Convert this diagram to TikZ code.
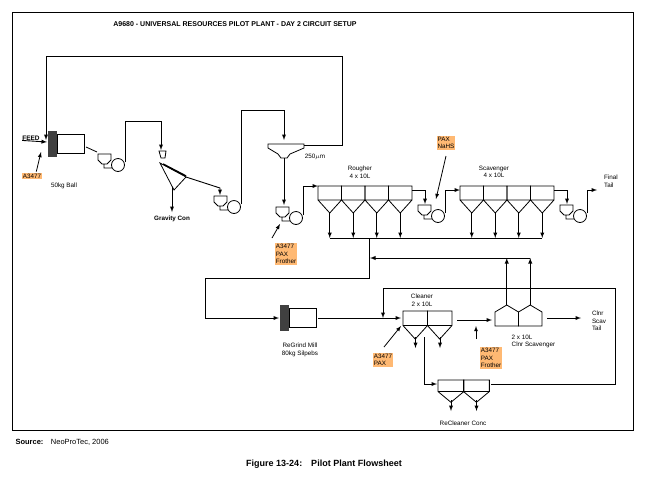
\documentclass[tikz,border=0pt]{standalone}
\usepackage{fontspec}
\setmainfont{Liberation Sans}
\usetikzlibrary{positioning}
\usetikzlibrary{arrows}
\tikzset{>=latex}
\tikzset{pipe/.style={draw, line width=0.9pt}}
\tikzset{lbl/.style={font=\fontsize{6.3}{7.5}\selectfont, align=center, inner sep=0.5pt}}
\tikzset{chem/.style={fill=orange!55, font=\fontsize{6.3}{7.5}\selectfont, align=left, inner sep=1pt, text depth=0pt}}
\tikzset{
  cell/.pic={\draw[line width=0.8pt] (0,0) rectangle (23.5,14) (0,14) -- (11.75,27) -- (23.5,14);},
  ucell/.pic={\draw[line width=0.8pt] (0,7) -- (11.75,0) -- (23.5,7) -- (23.5,21) -- (0,21) -- cycle;},
  pump/.pic={\draw[line width=0.8pt] (0,0) -- (13,0) -- (13,6) -- (9,10) -- (4,10) -- (0,6) -- cycle
      (6,10) -- (6,14) -- (14,14) (20,11) circle (6.5);},
  mill/.pic={\fill[black!75] (0,0) rectangle (9,26);
      \draw[line width=0.8pt] (9,3) rectangle (36,22);}
}
\begin{document}
\begin{tikzpicture}[x=1pt,y=-1pt]
\useasboundingbox (0,0) rectangle (647,483);
\draw[line width=1pt] (12,12) rectangle (633,430);
\node[font=\fontsize{7}{8}\selectfont\bfseries] (title) at (235,24) {A9680 - UNIVERSAL RESOURCES PILOT PLANT - DAY 2 CIRCUIT SETUP};

% grinding and gravity
\pic at (48,131) {mill};
\node[font=\fontsize{6.5}{7}\selectfont\bfseries, inner sep=0pt] (feed) at (31,138) {FEED};
\draw[->, pipe] (feed.south west) -- (47,142);
\node[chem] (c1) at (32,176) {A3477};
\draw[->, line width=0.8pt] (c1.north east) ++(-6,-1) -- (41,152);
\node[lbl] (ball) at (64,186) {50kg Ball};
\draw[line width=0.8pt] (86,147) -- (97,152);
\pic at (98,154) {pump};
\coordinate (p1) at (125,162);
\draw[->, pipe] (p1) |- (161,121) -- (161,150);
\draw[line width=0.8pt] (159,151) -- (166,151) -- (165,158) -- (161,158) -- cycle;
\draw[line width=0.8pt] (160,163) -- (186,177) -- (174,190) -- cycle;
\draw[line width=1.5pt] (163,164) -- (186,176);
\draw[->, pipe] (172,187) -- (172,212) node[below=3pt, lbl, font=\fontsize{6.3}{7.5}\selectfont\bfseries] (gcon) {Gravity Con};
\draw[->, pipe] (186,177) -- (220,188) -- (220,195);
\pic at (214,196) {pump};
\coordinate (p2) at (241,204);
\draw[->, pipe] (p2) |- (284,110) -- (284,140);

% cyclone
\draw[line width=0.8pt] (268,144) -- (304,144) -- (304,148) -- (290,154) -- (287,158) -- (281,158) -- (278,154) -- (268,148) -- cycle;
\node[lbl] (mesh) at (315,157) {250$\mu$m};
\draw[pipe] (304,145) -| (342,56) -- (46,56);
\draw[->, pipe] (46,56) -- (46,140);
\draw[->, pipe] (284,158) -- (284,205);
\pic at (276,207) {pump};
\coordinate (p3) at (303,215);
\draw[->, pipe] (p3) |- (318,186);
\node[chem] (c2) at (286,254) {A3477\\PAX\\Frother\hspace{8pt}};
\draw[->, line width=0.8pt] (272,238) -- (280,224);

% rougher and scavenger
\node[lbl] (rough) at (360,172) {Rougher\\4 x 10L};
\node[lbl] (scav) at (494,172) {Scavenger\\4 x 10L};
\foreach \i in {0,...,3} {
  \pic at (318+23.5*\i,186) {cell};
  \draw[->, pipe] (329.75+23.5*\i,213) -- (329.75+23.5*\i,238);
  \pic at (460+23.5*\i,186) {cell};
  \draw[->, pipe] (471.75+23.5*\i,213) -- (471.75+23.5*\i,238);
}
\draw[pipe] (329.75,238) -- (542.25,238);
\draw[->, pipe] (412,190) -| (425,204);
\pic at (418,205) {pump};
\coordinate (p4) at (445,213);
\draw[->, pipe] (p4) |- (460,190);
\node[chem] (c3) at (446,143) {PAX\\NaHS\hspace{4pt}};
\draw[->, line width=0.8pt] (446,156) -- (436,199);
\draw[->, pipe] (554,190) -| (567,204);
\pic at (560,205) {pump};
\coordinate (p5) at (587,213);
\draw[->, pipe] (p5) |- (597,190);
\node[lbl, align=left] (ftail) at (611,181) {Final\\Tail};

% regrind
\draw[->, pipe] (369,238) |- (205,278) |- (279,318);
\pic at (280,305) {mill};
\node[lbl] (regrind) at (300,350) {ReGrind Mill\\80kg Silpebs};
\draw[->, pipe] (318,318) -- (401,318);

% cleaner
\node[lbl] (clean) at (422,300) {Cleaner\\2 x 10L};
\foreach \i in {0,1} {
  \pic[scale=1.04] at (403+24.5*\i,311) {cell};
  \draw[->, pipe] (415.5+24.5*\i,337) -- (415.5+24.5*\i,348);
}
\draw[->, pipe] (424,337) |- (437,384);
\draw[->, pipe] (457,320) -- (492,320);
\draw[->, line width=0.8pt] (476,339) -- (476,326);
\node[chem] (c4) at (383,360) {A3477\\PAX\hspace{8pt}};
\draw[->, line width=0.8pt] (384,347) -- (401,326);

% cleaner scavenger
\foreach \i in {0,1} {
  \pic at (495+23.5*\i,305) {ucell};
  \draw[->, pipe] (506.75+23.5*\i,305) -- (506.75+23.5*\i,258);
}
\draw[->, pipe] (530.25,258) -- (370,258);
\draw[->, pipe] (547,318) -- (581,318);
\node[lbl, align=left] (cstail) at (599,321) {Clnr\\Scav\\Tail};
\node[lbl, align=left, anchor=north west] (cscav) at (511,334) {2 x 10L\\Clnr Scavenger};
\node[chem] (c5) at (491,358) {A3477\\PAX\\Frother\hspace{8pt}};

% recleaner
\foreach \i in {0,1} {
  \pic[scale=1.1,yscale=0.75] at (438+25.5*\i,380) {cell};
  \draw[->, pipe] (451+25.5*\i,400) -- (451+25.5*\i,411);
}
\node[lbl] (reconc) at (463,423) {ReCleaner Conc};
\draw[->, pipe] (491,384) -| (615,288) -| (383,318);

% caption
\node[anchor=west, font=\fontsize{7.5}{8}\selectfont] (src) at (12,442) {\textbf{Source:}\quad NeoProTec, 2006};
\node[font=\fontsize{9}{10}\selectfont\bfseries] (fig) at (324,464) {Figure 13-24:\quad Pilot Plant Flowsheet};
\end{tikzpicture}
\end{document}
